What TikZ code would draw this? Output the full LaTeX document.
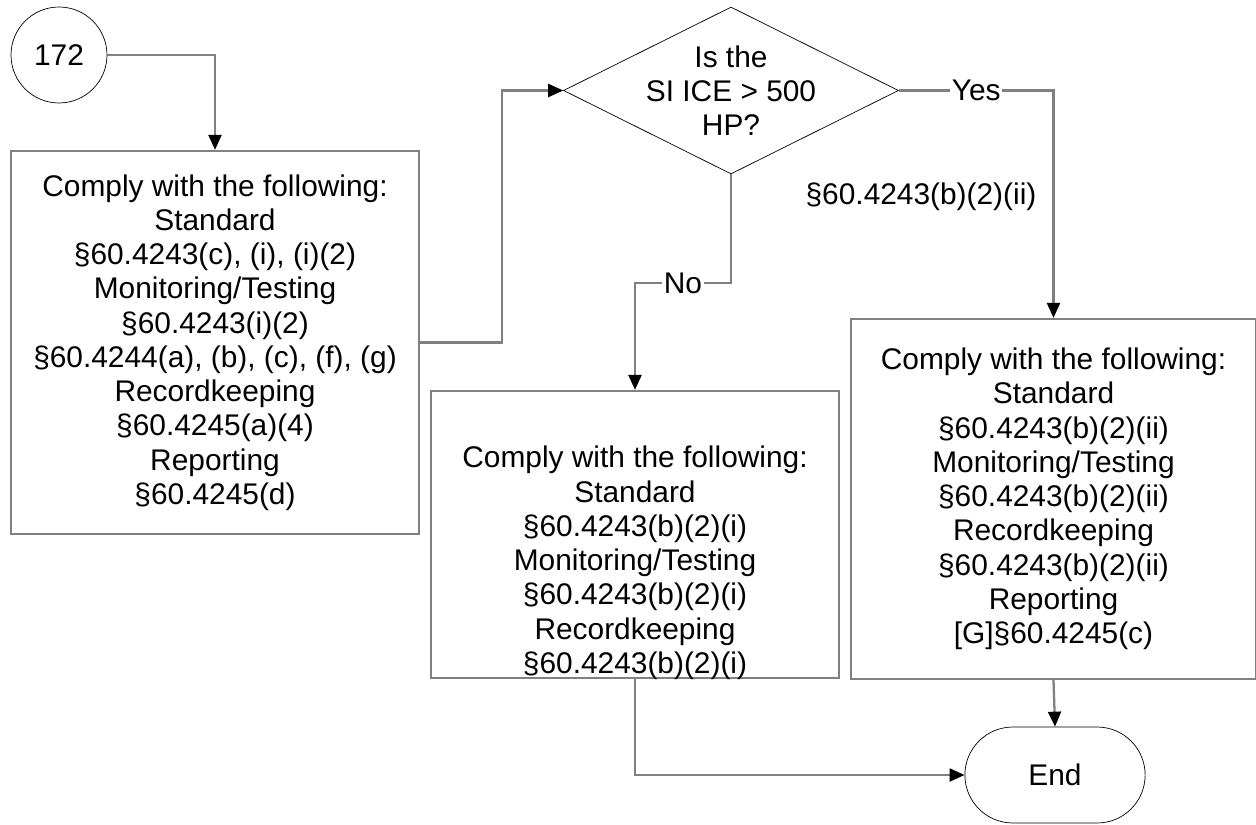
\documentclass[tikz,border=0pt]{standalone}
\usepackage{fontspec}
\setmainfont{Liberation Sans}
\usetikzlibrary{arrows.meta, positioning, shapes.geometric, shapes.misc}
\tikzset{
    flowchart/.style={x=0.02cm, y=-0.02cm, font=\fontsize{17}{19.5}\selectfont},
    box/.style={draw=gray, line width=1.3pt, minimum width=8.16cm, align=center, inner sep=0pt},
    decision/.style={draw, diamond, aspect=2, minimum width=6.7cm, minimum height=3.34cm, align=center, inner sep=-8pt},
    connector/.style={draw, circle, minimum size=1.92cm, inner sep=0pt},
    terminal/.style={draw, rounded rectangle, minimum width=3.84cm, minimum height=1.92cm},
    flow/.style={draw=gray, line width=1.3pt, -{Triangle[black, length=0.3cm, width=0.26cm]}},
    cond/.style={fill=white, inner sep=1pt},
}
\begin{document}
\begin{tikzpicture}[flowchart]
    \useasboundingbox (0,0) rectangle (1256,824);

    \node[connector] (c172) at (59,55) {172};
    \node[box, minimum height=7.66cm] (left) at (215,342.5)
        {Comply with the following:\\Standard\\\S60.4243(c), (i), (i)(2)\\Monitoring/Testing\\\S60.4243(i)(2)\\\S60.4244(a), (b), (c), (f), (g)\\Recordkeeping\\\S60.4245(a)(4)\\Reporting\\\S60.4245(d)};
    \node[decision] (dia) at (731,90.5) {Is the\\SI ICE > 500\\HP?};
    \node[box, minimum height=5.74cm] (mid) at (635,534.5) {};
    \node[align=center] (midtext) at (635,563)
        {Comply with the following:\\Standard\\\S60.4243(b)(2)(i)\\Monitoring/Testing\\\S60.4243(b)(2)(i)\\Recordkeeping\\\S60.4243(b)(2)(i)};
    \node[box, minimum width=8.1cm, minimum height=7.2cm] (right) at (1053.5,499)
        {Comply with the following:\\Standard\\\S60.4243(b)(2)(ii)\\Monitoring/Testing\\\S60.4243(b)(2)(ii)\\Recordkeeping\\\S60.4243(b)(2)(ii)\\Reporting\\{[G]}\S60.4245(c)};
    \node[terminal] (end) at (1055,775) {End};
    \node (yesnote) at (921,197) {\S60.4243(b)(2)(ii)};

    \coordinate (nobend) at (731,283);

    \draw[flow] (c172.east) -| (left.north);
    \draw[flow] (left.east) -- ++(82,0) |- (dia.west);
    \draw[flow] (dia.east) -| node[pos=0.25, cond] {Yes} (right.north);
    \draw[flow] (dia.south) -- (nobend) -| node[pos=0.25, cond] {No} (mid.north);
    \draw[flow] (right.south) -- (end.north);
    \draw[flow] (mid.south) |- (end.west);
\end{tikzpicture}
\end{document}
